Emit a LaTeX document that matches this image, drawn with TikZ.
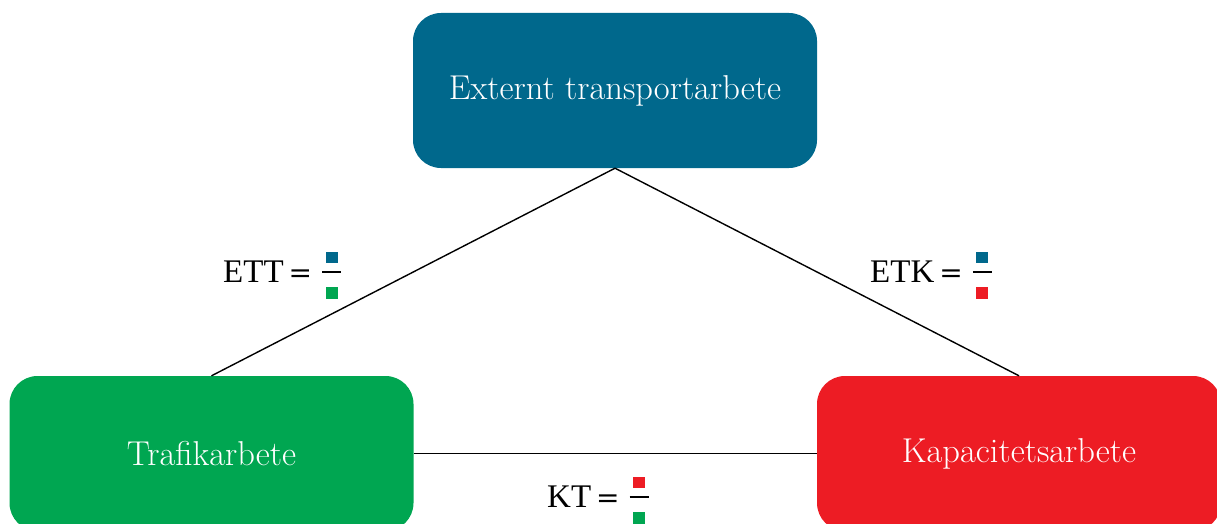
\documentclass[tikz,border=0pt]{standalone}
\usepackage{fontspec}
\newfontfamily\labelfont{Liberation Serif}
\newfontfamily\eqfont{DejaVu Serif}
\definecolor{extblue}{RGB}{0,104,140}
\definecolor{trgreen}{RGB}{0,166,81}
\definecolor{kapred}{RGB}{237,28,36}
% a ratio drawn as two coloured squares over and under a fraction bar
\newcommand\sqratio[2]{\hbox to 19pt{\hss
  \hbox to 0pt{\hss\textcolor{#1}{\rule[19pt]{12pt}{11.5pt}}\hss}%
  \hbox to 0pt{\hss\rule[9.3pt]{19pt}{1.4pt}\hss}%
  \hbox to 0pt{\hss\textcolor{#2}{\rule[-16.5pt]{12pt}{11.5pt}}\hss}%
  \hss}}
\newcommand\eqsign{{\eqfont\fontsize{28}{34}\selectfont=}}
\begin{document}
\begin{tikzpicture}[x=1pt,y=-1pt,
  blockbox/.style={rounded corners=28pt, minimum width=404pt, minimum height=155pt,
    inner sep=0pt, text=white, font=\fontsize{34.5}{40}\selectfont},
  ratiolabel/.style={inner sep=0pt, anchor=base west, font=\labelfont\fontsize{33}{40}\selectfont},
  link/.style={line width=1.4pt, black}]
\useasboundingbox (0,0) rectangle (1217,524);
\clip (0,0) rectangle (1217,524);
\node[blockbox, fill=extblue] (ext) at (615,90.5) {Externt transportarbete};
\node[blockbox, fill=trgreen] (traf) at (211.5,453.5) {Trafikarbete};
\node[blockbox, fill=kapred] (kap) at (1019,453.5) {Kapacitetsarbete};
\draw[link] (ext.south) -- (traf.north);
\draw[link] (ext.south) -- (kap.north);
\draw[link] (traf.east) -- (kap.west);
\node[ratiolabel] (ett) at (223,282) {ETT\hskip5pt\eqsign\hskip10pt\sqratio{extblue}{trgreen}};
\node[ratiolabel] (etk) at (870,282) {ETK\hskip5pt\eqsign\hskip10pt\sqratio{extblue}{kapred}};
\node[ratiolabel] (kt) at (547,507) {KT\hskip5pt\eqsign\hskip10pt\sqratio{kapred}{trgreen}};
\end{tikzpicture}
\end{document}
